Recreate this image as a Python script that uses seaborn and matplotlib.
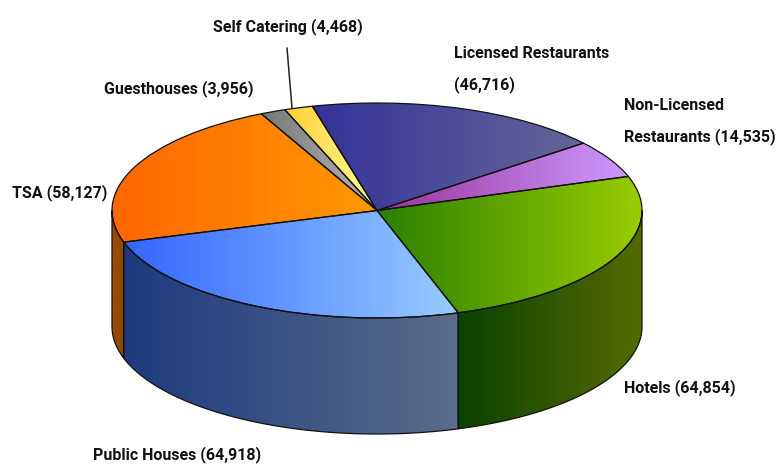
import numpy as np
import matplotlib
matplotlib.use("Agg")
import matplotlib.pyplot as plt
import seaborn as sns
from matplotlib.patches import Polygon

sns.set_theme(style="white")
plt.rcParams['font.family'] = ['Roboto', 'Liberation Sans', 'DejaVu Sans']

# values, clockwise from the right hand side
categories = ['Hotels', 'Public Houses', 'TSA', 'Guesthouses', 'Self Catering',
              'Licensed Restaurants', 'Non-Licensed Restaurants']
counts = [64854, 64918, 58127, 3956, 4468, 46716, 14535]

top_left = ['#2a8000', '#3366ff', '#ff6600', '#777777', '#ffcc33', '#333399', '#993399']
top_right = ['#99cc00', '#99ccff', '#ff9900', '#b8b8b8', '#ffff99', '#666699', '#cc99ff']
wall_left = ['#0a4200', '#1f3a80', '#a04a00', '#555555', '#998020', '#1f1f60', '#602060']
wall_right = ['#556b00', '#5a6d8a', '#8a4a00', '#707070', '#999960', '#404060', '#806099']

W, H = 776, 468
CX, CY, RX, RY = 377, 210.5, 265, 107.5
DEPTH = 116 / RY

fig = plt.figure(figsize=(W / 100, H / 100), dpi=100)
ax = fig.add_axes([0, 0, 1, 1])

wedges, _ = ax.pie(counts, startangle=18.5, counterclock=False, radius=1,
                   wedgeprops=dict(facecolor='none', edgecolor='#111111', linewidth=0.9, zorder=3))


def gradient(patch, c1, c2, x0, x1, y0, y1):
    cmap = sns.blend_palette([c1, c2], n_colors=256, as_cmap=True)
    im = ax.imshow(np.linspace(0, 1, 256).reshape(1, -1), cmap=cmap, aspect='auto',
                   extent=(x0, x1, y0, y1), zorder=1, interpolation='bilinear')
    im.set_clip_path(patch)


for i, w in enumerate(wedges):
    t = np.radians(np.linspace(w.theta1, w.theta2, 200))
    xs = np.r_[0, np.cos(t)]
    ys = np.r_[0, np.sin(t)]
    gradient(w, top_left[i], top_right[i], xs.min(), xs.max(), ys.min(), ys.max())

    # side wall, only the part of the rim facing the viewer
    a1, a2 = max(w.theta1, -180), min(w.theta2, 0)
    if a2 <= a1:
        continue
    t = np.radians(np.linspace(a1, a2, 200))
    rim = np.c_[np.cos(t), np.sin(t)]
    low = (rim - [0, DEPTH])[::-1]
    wall = Polygon(np.r_[rim, low], closed=True, facecolor='none', edgecolor='#111111',
                   linewidth=0.9, zorder=2)
    ax.add_patch(wall)
    gradient(wall, wall_left[i], wall_right[i], rim[:, 0].min(), rim[:, 0].max(),
             low[:, 1].min(), rim[:, 1].max())

ax.set_aspect('auto')
ax.set_xlim(-CX / RX, (W - CX) / RX)
ax.set_ylim((CY - H) / RY, CY / RY)
ax.axis('off')


def px(x, y):
    return x / W, 1 - y / H


labels = [
    ('Self Catering (4,468)', 213, 27),
    ('Guesthouses (3,956)', 104, 89),
    ('Licensed Restaurants', 454, 53),
    ('(46,716)', 454, 85),
    ('Non-Licensed', 624, 105),
    ('Restaurants (14,535)', 624, 137),
    ('TSA (58,127)', 12, 193),
    ('Public Houses (64,918)', 93, 455),
    ('Hotels (64,854)', 624, 388),
]
for txt, x, y in labels:
    fx, fy = px(x, y)
    fig.text(fx, fy, txt, fontsize=11.5, color='#111111', ha='left', va='center', fontweight='bold')

# leader for the small slice
p0, p1 = px(287, 48), px(292, 108)
ax.annotate('', xy=p1, xytext=p0, xycoords='figure fraction', textcoords='figure fraction',
            arrowprops=dict(arrowstyle='-', color='#222222', lw=1.1, shrinkA=0, shrinkB=0), zorder=5)

fig.savefig('out.png', dpi=100, facecolor='white')
